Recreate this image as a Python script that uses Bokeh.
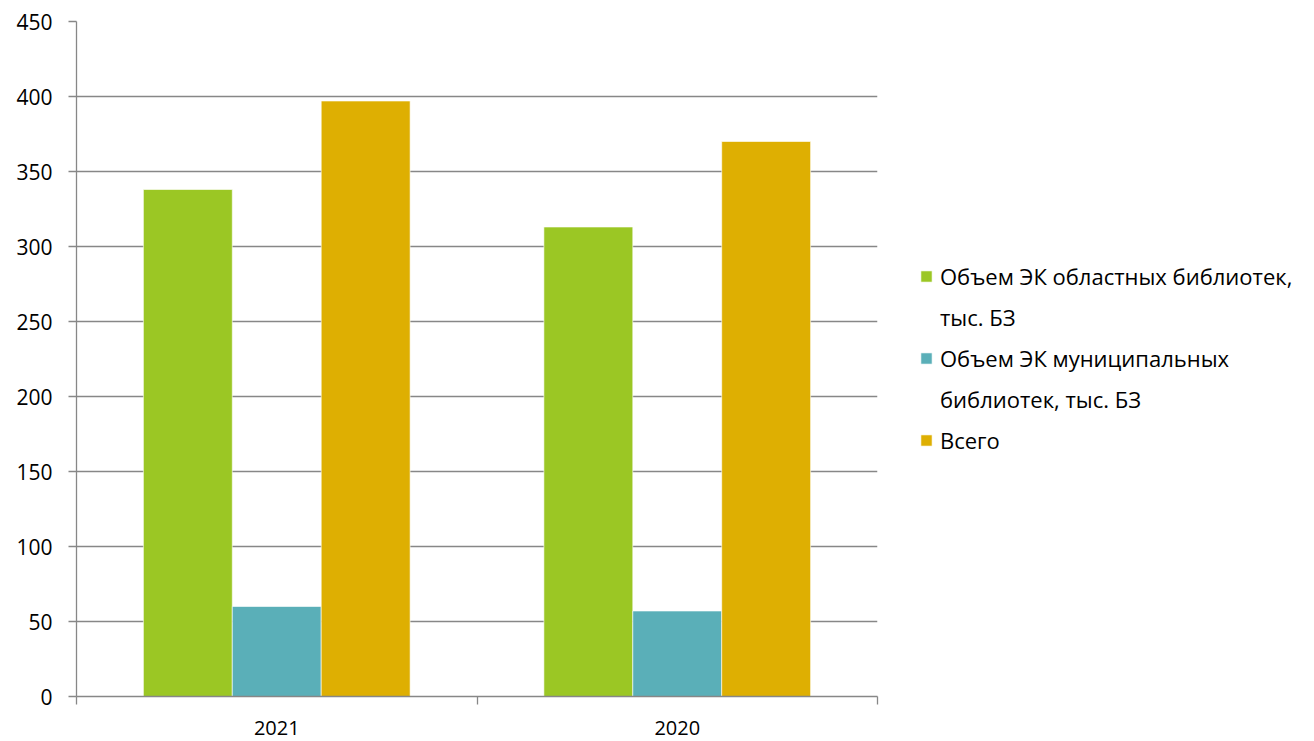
from bokeh.plotting import figure
from bokeh.models import (ColumnDataSource, FixedTicker, Range1d, Legend, LegendItem)
from bokeh.embed import file_html
from bokeh.resources import INLINE

categories = ["2021", "2020"]
series_lines = [["Объем ЭК областных библиотек,", "тыс. БЗ"],
                ["Объем ЭК муниципальных", "библиотек, тыс. БЗ"],
                ["Всего"]]
oblast = [338, 313]
municipal = [60, 57]
total = [397, 370]
colors = ["#9BC724", "#5AAFB8", "#DEAF02"]
y_ticks = [0, 50, 100, 150, 200, 250, 300, 350, 400, 450]

FONT = "Open Sans"
GRAY = "#878787"

p = figure(frame_width=801, frame_height=675, output_backend="svg", toolbar_location=None,
           x_range=Range1d(0, len(categories)), y_range=Range1d(0, 450),
           min_border_left=76, min_border_top=21, min_border_bottom=45,
           min_border_right=430)
p.outline_line_color = None
p.background_fill_color = "white"

bw = 0.222
renderers = []
for j, vals in enumerate([oblast, municipal, total]):
    xs = [i + 0.5 + (j - 1) * bw for i in range(len(categories))]
    src = ColumnDataSource(dict(x=xs, top=vals))
    r = p.vbar(x="x", top="top", width=bw, bottom=0, source=src,
               fill_color=colors[j], line_color="white", line_width=0.6)
    renderers.append(r)

# invisible renderer used for the continuation lines of the legend
dummy = p.vbar(x=[], top=[], width=0.1, fill_alpha=0, line_alpha=0)

# x axis
xt = FixedTicker(ticks=[i + 0.5 for i in range(len(categories))],
                 minor_ticks=list(range(len(categories) + 1)))
p.xaxis.ticker = xt
p.xaxis.major_label_overrides = {i + 0.5: c for i, c in enumerate(categories)}
p.xaxis.major_tick_out = 0
p.xaxis.major_tick_in = 0
p.xaxis.minor_tick_out = 8
p.xaxis.minor_tick_in = 0
p.xaxis.minor_tick_line_color = GRAY
p.xaxis.axis_line_color = GRAY
p.xaxis.axis_line_width = 1.3
p.xaxis.minor_tick_line_width = 1.3
p.xaxis.major_label_standoff = 16
p.xaxis.major_label_text_font = FONT
p.xaxis.major_label_text_font_size = "20px"
p.xaxis.major_label_text_color = "black"
p.xgrid.grid_line_color = None

# y axis
p.yaxis.ticker = FixedTicker(ticks=y_ticks, minor_ticks=[])
p.yaxis.major_tick_out = 8
p.yaxis.major_tick_in = 0
p.yaxis.major_tick_line_color = GRAY
p.yaxis.major_tick_line_width = 1.3
p.yaxis.axis_line_color = GRAY
p.yaxis.axis_line_width = 1.3
p.yaxis.major_label_standoff = 16
p.yaxis.major_label_text_font = FONT
p.yaxis.major_label_text_font_size = "21px"
p.yaxis.major_label_text_color = "black"
p.ygrid.grid_line_color = GRAY
p.ygrid.grid_line_width = 1.3

items = []
for j, lines in enumerate(series_lines):
    for k, line in enumerate(lines):
        items.append(LegendItem(label=line, renderers=[renderers[j] if k == 0 else dummy]))

legend = Legend(items=items,
                location=(42, 241), orientation="vertical",
                label_text_font=FONT, label_text_font_size="22px",
                label_text_color="black", label_height=28,
                glyph_width=14, glyph_height=14, label_standoff=7,
                spacing=11, padding=0, margin=0,
                border_line_color=None, background_fill_alpha=0)
p.add_layout(legend, "right")

open("out.html", "w").write(file_html(p, INLINE))
